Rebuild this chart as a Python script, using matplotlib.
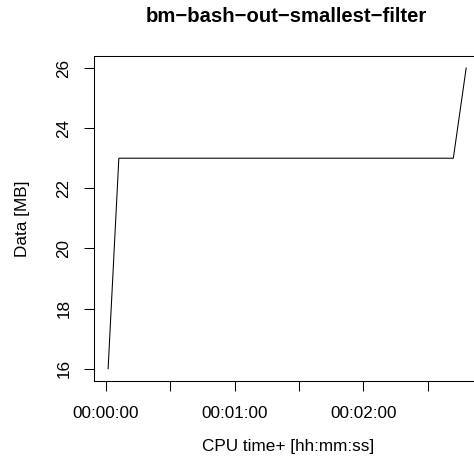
import matplotlib
matplotlib.use("Agg")
import matplotlib.pyplot as plt

# CPU time in seconds, memory in MB
cpu_seconds = [1, 6, 162, 168]
data_mb = [16, 23, 23, 26]
x_ticks = [0, 30, 60, 90, 120, 150]
x_tick_labels = ["00:00:00", "", "00:01:00", "", "00:02:00", ""]
y_ticks = [16, 18, 20, 22, 24, 26]

plt.rcParams['font.family'] = ['Liberation Sans', 'DejaVu Sans']

W, H = 474, 468
fig = plt.figure(figsize=(W / 100, H / 100), dpi=100)

# plot region in pixels (right edge runs past the image, like the original)
left, right, top, bottom = 93.8, 480.5, 56.0, 380.7
ax = fig.add_axes([left / W, 1 - bottom / H, (right - left) / W, (bottom - top) / H])

ax.plot(cpu_seconds, data_mb, color="black", linewidth=0.75)

span = max(cpu_seconds) - min(cpu_seconds)
ax.set_xlim(min(cpu_seconds) - 0.04 * span, max(cpu_seconds) + 0.04 * span)
yspan = max(data_mb) - min(data_mb)
ax.set_ylim(min(data_mb) - 0.04 * yspan, max(data_mb) + 0.04 * yspan)

ax.set_xticks(x_ticks)
ax.set_xticklabels(x_tick_labels)
ax.set_yticks(y_ticks)
ax.set_yticklabels([str(v) for v in y_ticks], rotation=90, va="center")
ax.tick_params(direction="out", length=7, width=0.75, labelsize=12.3, color="black")
ax.tick_params(axis="x", pad=11)
ax.tick_params(axis="y", pad=9)

for s in ax.spines.values():
    s.set_linewidth(0.75)

fig.text(286.7 / W, 1 - 17 / H, "bm\u2212bash\u2212out\u2212smallest\u2212filter",
         ha="center", va="center", fontsize=14.6, fontweight="bold")
fig.text(288.4 / W, 1 - 446 / H, "CPU time+ [hh:mm:ss]", ha="center", va="center", fontsize=12.3)
fig.text(23 / W, 1 - (top + bottom) / 2 / H, "Data [MB]", ha="center", va="center",
         rotation=90, fontsize=12.3)

fig.savefig("out.png", dpi=100)
